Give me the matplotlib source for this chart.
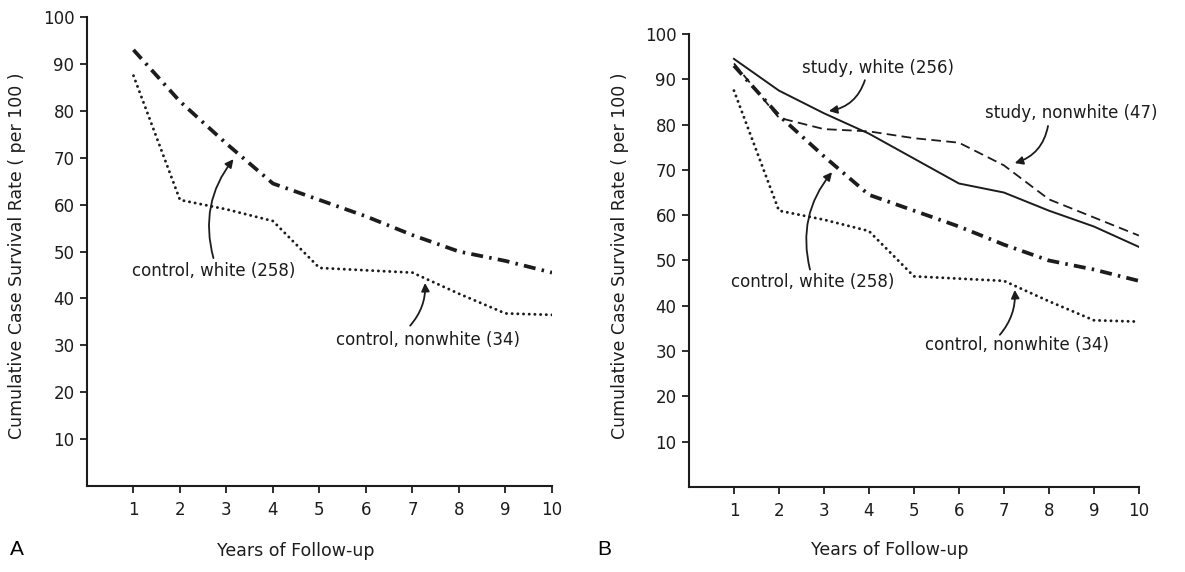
import matplotlib
matplotlib.use("Agg")
import matplotlib.pyplot as plt

plt.rcParams['font.family'] = ['DejaVu Sans']
plt.rcParams['lines.scale_dashes'] = False

years = [1, 2, 3, 4, 5, 6, 7, 8, 9, 10]
control_white = [93, 82, 73, 64.5, 61, 57.5, 53.5, 50, 48, 45.5]
control_nonwhite = [87.5, 61, 59, 56.5, 46.5, 46, 45.5, 41, 36.8, 36.5]
study_white = [94.5, 87.5, 82.5, 78, 72.5, 67, 65, 61, 57.5, 53]
study_nonwhite = [93.5, 81.5, 79, 78.5, 77, 76, 71, 63.5, 59.5, 55.5]
yticks = [10, 20, 30, 40, 50, 60, 70, 80, 90, 100]

ink = '#1c1c1c'
ylabel = 'Cumulative Case Survival Rate ( per 100 )'
xlabel = 'Years of Follow-up'

fig = plt.figure(figsize=(11.85, 5.72), dpi=100)
axA = fig.add_axes([0.0734, 0.1503, 0.3924, 0.8199])
axB = fig.add_axes([0.5814, 0.1486, 0.3797, 0.7920])

dashdot = dict(color=ink, lw=2.7, linestyle=(0, (8.6, 4.5, 1.8, 4.5)), dash_capstyle='butt')
dotted = dict(color=ink, lw=2.1, linestyle=(0, (0.1, 4.0)), dash_capstyle='round')
dashed = dict(color=ink, lw=1.3, linestyle=(0, (7, 3.8)))
solid = dict(color=ink, lw=1.4)


def style(ax, xlab_x, ylab_x, ylab_y):
    ax.set_xlim(0, 10)
    ax.set_ylim(0, 100)
    ax.set_xticks(years)
    ax.set_yticks(yticks)
    ax.set_xticklabels([str(v) for v in years])
    ax.set_yticklabels([str(v) for v in yticks])
    for s in ['top', 'right']:
        ax.spines[s].set_visible(False)
    for s in ['left', 'bottom']:
        ax.spines[s].set_linewidth(1.5)
        ax.spines[s].set_color(ink)
    ax.tick_params(direction='out', length=5, width=1.3, colors=ink, labelsize=12, pad=4)
    ax.tick_params(axis='x', pad=6)
    ax.set_xlabel(xlabel, fontsize=12.5, color=ink)
    ax.xaxis.set_label_coords(xlab_x, -0.12)
    ax.set_ylabel(ylabel, fontsize=12.5, color=ink)
    ax.yaxis.set_label_coords(ylab_x, ylab_y)


def note(ax, text, xy, start, tpos, rad):
    ax.annotate('', xy=xy, xytext=start,
                arrowprops=dict(arrowstyle='-|>', color=ink, lw=1.3, mutation_scale=12,
                                shrinkA=0, shrinkB=0,
                                connectionstyle='arc3,rad=%s' % rad))
    ax.text(tpos[0], tpos[1], text, fontsize=12, color=ink, ha='center', va='center')


# panel A
axA.plot(years, control_white, **dashdot)
axA.plot(years, control_nonwhite, **dotted)
style(axA, 0.45, -0.131, 0.49)
note(axA, 'control, white (258)', (3.15, 69.7), (2.72, 48.6), (2.73, 45.8), -0.25)
note(axA, 'control, nonwhite (34)', (7.27, 43.3), (6.95, 34.2), (7.34, 31.1), 0.2)

# panel B
axB.plot(years, study_white, **solid)
axB.plot(years, study_nonwhite, **dashed)
axB.plot(years, control_white, **dashdot)
axB.plot(years, control_nonwhite, **dotted)
style(axB, 0.447, -0.133, 0.51)
note(axB, 'study, white (256)', (3.11, 83.0), (3.91, 89.8), (4.2, 92.5), -0.3)
note(axB, 'study, nonwhite (47)', (7.24, 71.5), (7.98, 79.7), (8.5, 82.5), -0.3)
note(axB, 'control, white (258)', (3.18, 69.5), (2.69, 48.0), (2.75, 45.3), -0.25)
note(axB, 'control, nonwhite (34)', (7.24, 43.5), (6.91, 33.6), (7.3, 31.3), 0.2)

fig.text(0.008, 0.03, 'A', fontsize=15, family='Liberation Sans', color='black')
fig.text(0.504, 0.03, 'B', fontsize=15, family='Liberation Sans', color='black')

fig.savefig('out.png', dpi=100, facecolor='white')
